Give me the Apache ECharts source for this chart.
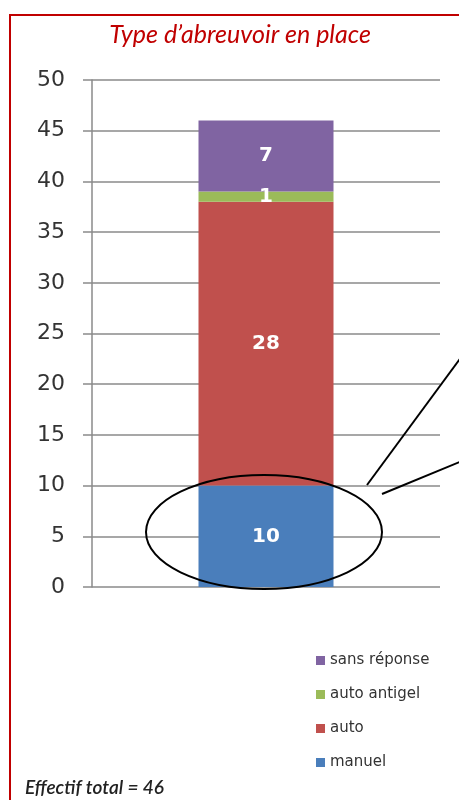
<!DOCTYPE html>
<html>
<head>
<meta charset="utf-8">
<script src="https://cdn.jsdelivr.net/npm/echarts@6/dist/echarts.min.js"></script>
<style>
  html, body { margin: 0; padding: 0; background: #fff; }
  #chart { width: 459px; height: 800px; }
</style>
</head>
<body>
<div id="chart"></div>
<script>
const categories = ['Type']
const manuel = [10]
const auto = [28]
const autoAntigel = [1]
const sansReponse = [7]
const legendOrder = ['sans réponse', 'auto antigel', 'auto', 'manuel']

const chart = echarts.init(document.getElementById('chart'))

const segLabel = {
  show: true,
  position: 'inside',
  color: '#fff',
  fontWeight: 'bold',
  fontSize: 20,
  fontFamily: 'DejaVu Sans'
}

const option = {
  backgroundColor: '#fff',
  animation: false,
  title: {
    text: 'Type d’abreuvoir en place',
    left: 235,
    textAlign: 'center',
    top: 17,
    textStyle: { color: '#c00000', fontStyle: 'italic', fontWeight: 'normal', fontSize: 25, fontFamily: 'Lato' }
  },
  legend: {
    data: legendOrder,
    orient: 'vertical',
    left: 311,
    top: 648,
    itemWidth: 9,
    itemHeight: 9,
    itemGap: 19,
    icon: 'rect',
    textStyle: { color: '#333', fontSize: 15, fontFamily: 'DejaVu Sans' }
  },
  grid: { left: 92, right: 19, top: 80, bottom: 213 },
  xAxis: {
    type: 'category',
    data: categories,
    axisLine: { show: false },
    axisTick: { show: false },
    axisLabel: { show: false }
  },
  yAxis: {
    type: 'value',
    min: 0,
    max: 50,
    interval: 5,
    axisLine: { show: true, lineStyle: { color: '#8a8a8a', width: 1.5 } },
    axisTick: { show: true, length: 9, lineStyle: { color: '#8a8a8a', width: 1.5 } },
    splitLine: { lineStyle: { color: '#8a8a8a', width: 1.5 } },
    axisLabel: { color: '#333', fontSize: 22, fontFamily: 'DejaVu Sans', margin: 27 }
  },
  series: [
    { name: 'manuel', type: 'bar', stack: 't', barWidth: 135, data: manuel, itemStyle: { color: '#4a7ebb' }, label: segLabel },
    { name: 'auto', type: 'bar', stack: 't', data: auto, itemStyle: { color: '#c0504d' }, label: segLabel },
    { name: 'auto antigel', type: 'bar', stack: 't', data: autoAntigel, itemStyle: { color: '#9bbb59' }, label: segLabel },
    { name: 'sans réponse', type: 'bar', stack: 't', data: sansReponse, itemStyle: { color: '#8064a2' }, label: segLabel }
  ],
  graphic: [
    { type: 'rect', shape: { x: 10, y: 15, width: 470, height: 800 }, style: { fill: 'none', stroke: '#c00000', lineWidth: 2 }, z: 100 },
    { type: 'ellipse', shape: { cx: 264, cy: 532, rx: 118, ry: 57 }, style: { fill: 'none', stroke: '#000', lineWidth: 2 }, z: 100 },
    { type: 'line', shape: { x1: 367, y1: 485, x2: 462, y2: 356 }, style: { stroke: '#000', lineWidth: 2 }, z: 100 },
    { type: 'line', shape: { x1: 382, y1: 494, x2: 462, y2: 461 }, style: { stroke: '#000', lineWidth: 2 }, z: 100 },
    { type: 'text', left: 25, top: 778, style: { text: 'Effectif total = 46', fill: '#222', font: 'italic 600 19px Lato' }, z: 100 }
  ]
}

chart.setOption(option)
</script>
</body>
</html>
